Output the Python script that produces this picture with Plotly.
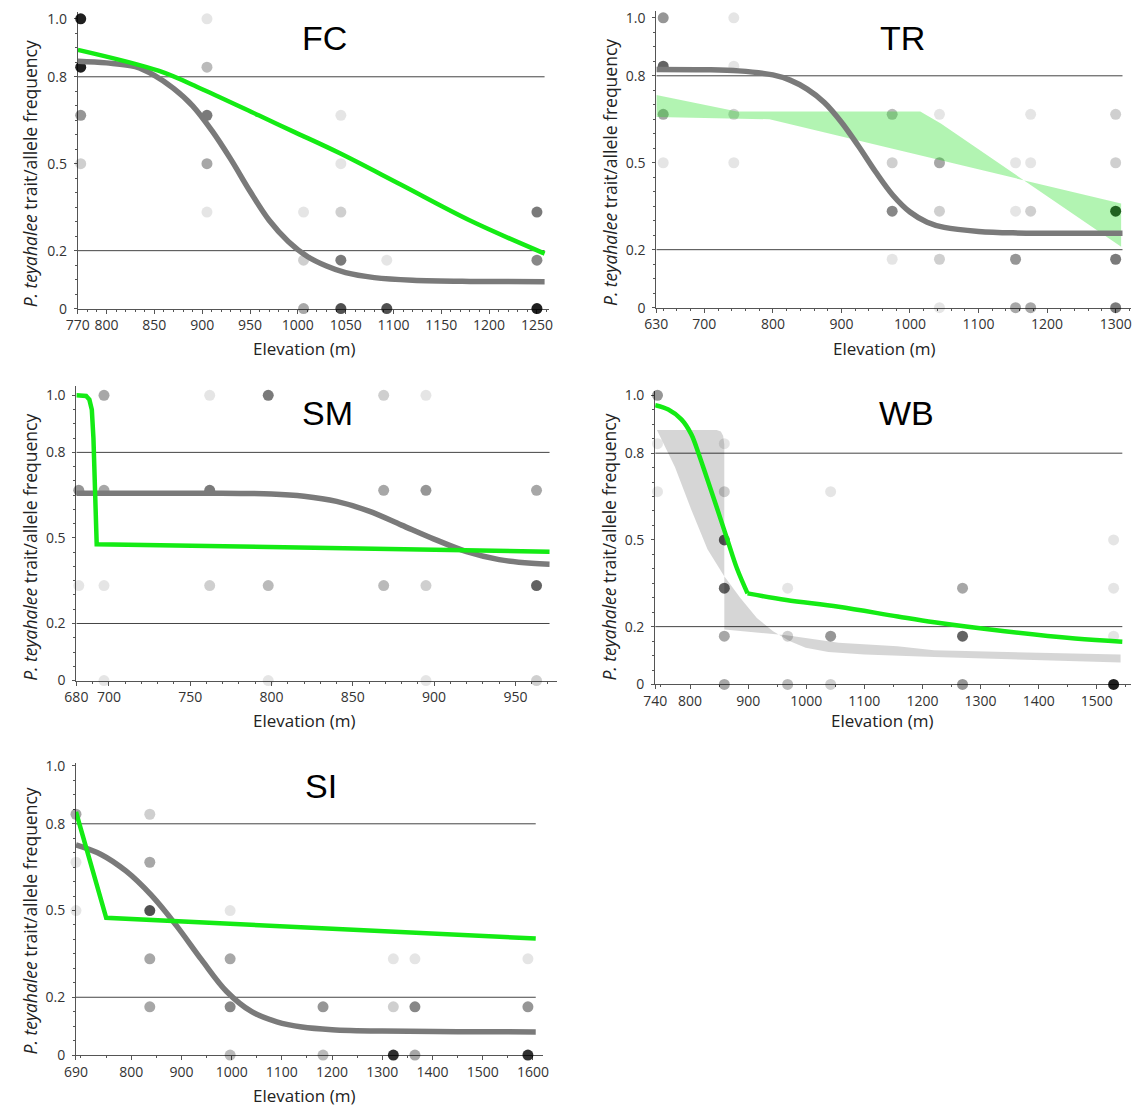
import plotly.graph_objects as go

W, H = 1139, 1118

# ---------------- data ----------------
# Sampled populations: elevation (m), trait/allele frequency, number of overlapping samples
fc_pt_elev = [773, 773, 773, 773, 905, 905, 905, 905, 905, 1006, 1006, 1006,
              1045, 1045, 1045, 1045, 1045, 1093, 1093, 1250, 1250, 1250]
fc_pt_freq = [1.0, 0.833, 0.667, 0.5, 1.0, 0.833, 0.667, 0.5, 0.333, 0.333, 0.167, 0.0,
              0.667, 0.5, 0.333, 0.167, 0.0, 0.167, 0.0, 0.333, 0.167, 0.0]
fc_pt_n = [20, 20, 5, 2, 1, 3, 7, 4, 1, 1, 2, 4,
           1, 1, 2, 7, 11, 1, 11, 7, 6, 20]

tr_pt_elev = [640, 640, 640, 640, 743, 743, 743, 743, 974, 974, 974, 974,
              1043, 1043, 1043, 1043, 1043, 1154, 1154, 1154, 1154,
              1176, 1176, 1176, 1176, 1300, 1300, 1300, 1300, 1300]
tr_pt_freq = [1.0, 0.833, 0.667, 0.5, 1.0, 0.833, 0.667, 0.5, 0.667, 0.5, 0.333, 0.167,
              0.667, 0.5, 0.333, 0.167, 0.0, 0.5, 0.333, 0.167, 0.0,
              0.667, 0.5, 0.333, 0.0, 0.667, 0.5, 0.333, 0.167, 0.0]
tr_pt_n = [5, 9, 4, 1, 1, 1, 2, 1, 3, 2, 6, 1,
           1, 4, 2, 2, 1, 1, 1, 5, 4,
           1, 1, 2, 4, 2, 2, 16, 7, 7]

sm_pt_elev = [681.5, 681.5, 697, 697, 697, 697, 762, 762, 762, 798, 798, 798,
              869, 869, 869, 895, 895, 895, 895, 963, 963, 963]
sm_pt_freq = [0.667, 0.333, 1.0, 0.667, 0.333, 0.0, 1.0, 0.667, 0.333, 1.0, 0.333, 0.0,
              1.0, 0.667, 0.333, 1.0, 0.667, 0.333, 0.0, 0.667, 0.333, 0.0]
sm_pt_n = [5, 1, 4, 4, 1, 1, 1, 7, 2, 7, 3, 1,
           2, 4, 3, 1, 5, 2, 1, 4, 9, 2]

wb_pt_elev = [744, 744, 744, 859, 859, 859, 859, 859, 859, 968, 968, 968,
              1042, 1042, 1042, 1269, 1269, 1269, 1529, 1529, 1529, 1529]
wb_pt_freq = [1.0, 0.833, 0.667, 0.833, 0.667, 0.5, 0.333, 0.167, 0.0, 0.333, 0.167, 0.0,
              0.667, 0.167, 0.0, 0.333, 0.167, 0.0, 0.5, 0.333, 0.167, 0.0]
wb_pt_n = [5, 1, 1, 1, 2, 10, 9, 4, 4, 1, 2, 3,
           1, 5, 2, 4, 9, 5, 1, 1, 1, 20]

si_pt_elev = [690, 690, 690, 837, 837, 837, 837, 837, 997, 997, 997, 997,
              1182, 1182, 1322, 1322, 1322, 1365, 1365, 1365, 1590, 1590, 1590]
si_pt_freq = [0.833, 0.667, 0.5, 0.833, 0.667, 0.5, 0.333, 0.167, 0.5, 0.333, 0.167, 0.0,
              0.167, 0.0, 0.333, 0.167, 0.0, 0.333, 0.167, 0.0, 0.333, 0.167, 0.0]
si_pt_n = [4, 1, 1, 2, 4, 11, 4, 4, 1, 4, 6, 3,
           5, 3, 1, 2, 16, 1, 6, 4, 1, 5, 16]

# Fitted clines (grey = sigmoid cline, green = second cline)
fc_grey_elev = [770, 800, 830, 850, 870, 890, 910, 930, 950, 970, 990, 1010, 1030,
                1050, 1080, 1120, 1180, 1258]
fc_grey_freq = [0.854, 0.848, 0.835, 0.805, 0.760, 0.700, 0.615, 0.515, 0.405, 0.305,
                0.232, 0.180, 0.147, 0.124, 0.107, 0.098, 0.094, 0.093]
fc_green_elev = [770, 855, 900, 959, 996, 1044, 1107, 1180, 1258]
fc_green_freq = [0.893, 0.820, 0.757, 0.667, 0.610, 0.536, 0.429, 0.304, 0.190]

tr_grey_elev = [630, 700, 750, 800, 825, 850, 875, 900, 925, 950, 975, 1000, 1025,
                1050, 1100, 1150, 1310]
tr_grey_freq = [0.822, 0.821, 0.817, 0.803, 0.785, 0.754, 0.708, 0.640, 0.557, 0.468,
                0.388, 0.330, 0.295, 0.277, 0.263, 0.258, 0.257]
# Green confidence band: two boundary curves
tr_band_a_elev = [630, 748, 1015, 1045, 1308]
tr_band_a_freq = [0.734, 0.677, 0.677, 0.635, 0.210]
tr_band_b_elev = [630, 795, 1308]
tr_band_b_freq = [0.658, 0.650, 0.359]

sm_grey_elev = [680, 760, 800, 820, 840, 860, 880, 900, 920, 940, 960, 971]
sm_grey_freq = [0.657, 0.657, 0.654, 0.646, 0.628, 0.594, 0.545, 0.496, 0.452, 0.424,
                0.411, 0.408]
sm_green_elev = [680, 686, 688, 689.5, 690.5, 691.5, 692.5, 971]
sm_green_freq = [1.0, 0.998, 0.985, 0.95, 0.85, 0.6, 0.478, 0.452]

wb_green_elev = [740, 762.6, 785.1, 802, 814.5, 830.2, 847.2, 864.1, 881, 899,
                 965.6, 1055.8, 1157.4, 1220.5, 1341.6, 1462.6, 1544]
wb_green_freq = [0.966, 0.951, 0.917, 0.866, 0.80, 0.707, 0.605, 0.502, 0.40, 0.315,
                 0.292, 0.269, 0.235, 0.215, 0.184, 0.159, 0.148]
# Grey confidence band: two boundary curves
wb_band_p_elev = [743, 846, 853, 857, 859, 859, 966, 1056, 1157, 1220, 1541]
wb_band_p_freq = [0.88, 0.88, 0.875, 0.86, 0.83, 0.19, 0.17, 0.144, 0.132, 0.118, 0.104]
wb_band_q_elev = [743, 774, 802, 830, 858, 887, 915, 943, 971, 999, 1038, 1100, 1220, 1541]
wb_band_q_freq = [0.88, 0.752, 0.605, 0.468, 0.377, 0.298, 0.23, 0.184, 0.15, 0.127,
                  0.112, 0.104, 0.095, 0.076]

si_grey_elev = [690, 740, 790, 840, 890, 940, 990, 1040, 1090, 1140, 1200, 1300,
                1450, 1605.6]
si_grey_freq = [0.727, 0.694, 0.636, 0.553, 0.448, 0.330, 0.220, 0.150, 0.115, 0.097,
                0.088, 0.083, 0.081, 0.080]
si_green_elev = [690, 750.2, 1605.6]
si_green_freq = [0.841, 0.475, 0.403]

# Axis ticks
fc_xticks = [770, 800, 850, 900, 950, 1000, 1050, 1100, 1150, 1200, 1250]
tr_xticks = [630, 700, 800, 900, 1000, 1100, 1200, 1300]
sm_xticks = [680, 700, 750, 800, 850, 900, 950]
wb_xticks = [740, 800, 900, 1000, 1100, 1200, 1300, 1400, 1500]
si_xticks = [690, 800, 900, 1000, 1100, 1200, 1300, 1400, 1500, 1600]
y_ticks = [0, 0.2, 0.5, 0.8, 1.0]
y_ticktext = ["0", "0.2", "0.5", "0.8", "1.0"]
guide_levels = [0.2, 0.8]

# ---------------- panel layout (pixel boxes: left, right, top, baseline) ----------------
panels = [
    dict(name="FC", box=(66.9, 546, 5, 306), unit=294, xr=(770, 1263), xt=fc_xticks,
         xminor=10, pts=(fc_pt_elev, fc_pt_freq, fc_pt_n),
         grey=(fc_grey_elev, fc_grey_freq), green=(fc_green_elev, fc_green_freq),
         green_shape="spline",
         title_xy=(318, 31), ytitle_xy=(18, 169), xtitle_xy=(297, 346)),
    dict(name="TR", box=(654.7, 1136.7, 4, 305), unit=294, xr=(630, 1322), xt=tr_xticks,
         xminor=20, pts=(tr_pt_elev, tr_pt_freq, tr_pt_n),
         grey=(tr_grey_elev, tr_grey_freq),
         band=((tr_band_a_elev, tr_band_a_freq), (tr_band_b_elev, tr_band_b_freq)),
         band_color="rgba(0,220,0,0.30)",
         title_xy=(905, 31), ytitle_xy=(607, 168), xtitle_xy=(886, 346)),
    dict(name="SM", box=(65.4, 553.6, 385, 683.3), unit=289.3, xr=(680, 975.5),
         xt=sm_xticks, xminor=10, pts=(sm_pt_elev, sm_pt_freq, sm_pt_n),
         grey=(sm_grey_elev, sm_grey_freq), green=(sm_green_elev, sm_green_freq),
         green_shape="linear",
         title_xy=(321, 412), ytitle_xy=(18, 548), xtitle_xy=(297, 724)),
    dict(name="WB", box=(653.5, 1137, 390, 687.3), unit=293.3, xr=(740, 1559),
         xt=wb_xticks, xminor=50, pts=(wb_pt_elev, wb_pt_freq, wb_pt_n),
         green=(wb_green_elev, wb_green_freq), green_shape="spline", green_knee=9,
         band=((wb_band_p_elev, wb_band_p_freq), (wb_band_q_elev, wb_band_q_freq)),
         band_color="rgba(0,0,0,0.16)",
         title_xy=(909, 412), ytitle_xy=(607, 548), xtitle_xy=(884, 724)),
    dict(name="SI", box=(65, 539.3, 766.7, 1063.3), unit=293.3, xr=(690, 1619.6),
         xt=si_xticks, xminor=50, pts=(si_pt_elev, si_pt_freq, si_pt_n),
         grey=(si_grey_elev, si_grey_freq), green=(si_green_elev, si_green_freq),
         green_shape="linear",
         title_xy=(314, 790), ytitle_xy=(18, 927), xtitle_xy=(297, 1104)),
]

GREY_LINE = "rgb(122,122,122)"
GREEN_LINE = "rgb(20,235,20)"
AXIS_COL = "#555555"
TICK_FONT = dict(family="Open Sans", size=14, color="#333333")

fig = go.Figure()
layout = dict(width=W, height=H, margin=dict(l=0, r=0, t=0, b=0),
              paper_bgcolor="white", plot_bgcolor="white", showlegend=False)
annotations = []
shapes = []

for i, p in enumerate(panels, start=1):
    sfx = "" if i == 1 else str(i)
    xa, ya = f"x{sfx}", f"y{sfx}"
    x0, x1, ytop, ybot = p["box"]
    ymax = (ybot - ytop) / p["unit"]

    layout[f"xaxis{sfx}"] = dict(
        domain=[x0 / W, x1 / W], anchor=ya, range=list(p["xr"]),
        tickmode="array", tickvals=p["xt"], ticktext=[str(v) for v in p["xt"]],
        showline=True, linecolor=AXIS_COL, linewidth=1,
        ticks="outside", ticklen=4, tickcolor=AXIS_COL, tickwidth=1,
        minor=dict(tickmode="linear", tick0=0, dtick=p["xminor"], ticks="outside",
                   ticklen=2, tickcolor=AXIS_COL),
        showgrid=False, zeroline=False, tickfont=TICK_FONT, layer="below traces",
        fixedrange=True,
    )
    layout[f"yaxis{sfx}"] = dict(
        domain=[1 - ybot / H, 1 - ytop / H], anchor=xa, range=[0, ymax],
        tickmode="array", tickvals=y_ticks, ticktext=y_ticktext,
        showline=True, linecolor=AXIS_COL, linewidth=1,
        ticks="outside", ticklen=3, tickcolor=AXIS_COL, tickwidth=1,
        minor=dict(tickmode="linear", tick0=0, dtick=0.05, ticks="outside",
                   ticklen=2, tickcolor=AXIS_COL),
        showgrid=False, zeroline=False, tickfont=TICK_FONT, layer="below traces",
        ticklabelstandoff=4, fixedrange=True,
    )

    # sample points, darker where samples overlap
    ex, fy, nn = p["pts"]
    colors = [f"rgba(0,0,0,{1 - 0.9 ** n:.3f})" for n in nn]
    fig.add_trace(go.Scatter(x=ex, y=fy, mode="markers", xaxis=xa, yaxis=ya,
                             marker=dict(size=11, color=colors, line=dict(width=0)),
                             cliponaxis=False, hoverinfo="skip"))

    # confidence band drawn over the points
    if "band" in p:
        (ax_, ay_), (bx_, by_) = p["band"]
        fig.add_trace(go.Scatter(x=list(ax_) + list(bx_)[::-1], y=list(ay_) + list(by_)[::-1],
                                 mode="lines", fill="toself", fillcolor=p["band_color"],
                                 line=dict(width=0), xaxis=xa, yaxis=ya, hoverinfo="skip"))

    curve_ends = []
    if "grey" in p:
        gx, gy = p["grey"]
        curve_ends.append(max(gx))
        fig.add_trace(go.Scatter(x=gx, y=gy, mode="lines", xaxis=xa, yaxis=ya,
                                 line=dict(color=GREY_LINE, width=5.5, shape="spline",
                                           smoothing=1.0),
                                 hoverinfo="skip"))
    if "green" in p:
        nx, ny = p["green"]
        curve_ends.append(max(nx))
        # a knee splits the cline into two smooth pieces meeting at a sharp corner
        k = p.get("green_knee")
        pieces = [(nx, ny)] if k is None else [(nx[:k + 1], ny[:k + 1]), (nx[k:], ny[k:])]
        for sx, sy in pieces:
            fig.add_trace(go.Scatter(x=sx, y=sy, mode="lines", xaxis=xa, yaxis=ya,
                                     line=dict(color=GREEN_LINE, width=4.5,
                                               shape=p["green_shape"]),
                                     hoverinfo="skip"))
    if "band" in p:
        curve_ends.append(max(p["band"][0][0]))

    # horizontal guide lines at 0.2 and 0.8
    for lv in guide_levels:
        shapes.append(dict(type="line", xref=xa, yref=ya, x0=p["xr"][0], x1=max(curve_ends),
                           y0=lv, y1=lv, line=dict(color="#444444", width=1), layer="below"))

    # panel label and axis titles
    tx, ty = p["title_xy"]
    annotations.append(dict(text=p["name"], x=tx / W, y=1 - ty / H, xref="paper", yref="paper",
                            showarrow=False, xanchor="center", yanchor="middle",
                            font=dict(family="Liberation Sans", size=34, color="black")))
    yx, yy = p["ytitle_xy"]
    annotations.append(dict(text="<i>P. teyahalee</i> trait/allele frequency",
                            x=yx / W, y=1 - yy / H, xref="paper", yref="paper",
                            showarrow=False, textangle=-90, xanchor="center", yanchor="middle",
                            font=dict(family="Open Sans", size=17.5, color="#222222")))
    ex_, ey_ = p["xtitle_xy"]
    annotations.append(dict(text="Elevation (m)", x=ex_ / W, y=1 - ey_ / H,
                            xref="paper", yref="paper", showarrow=False,
                            xanchor="center", yanchor="middle",
                            font=dict(family="Open Sans", size=17, color="#222222")))

layout["annotations"] = annotations
layout["shapes"] = shapes
fig.update_layout(**layout)
fig.write_html("out.html")
